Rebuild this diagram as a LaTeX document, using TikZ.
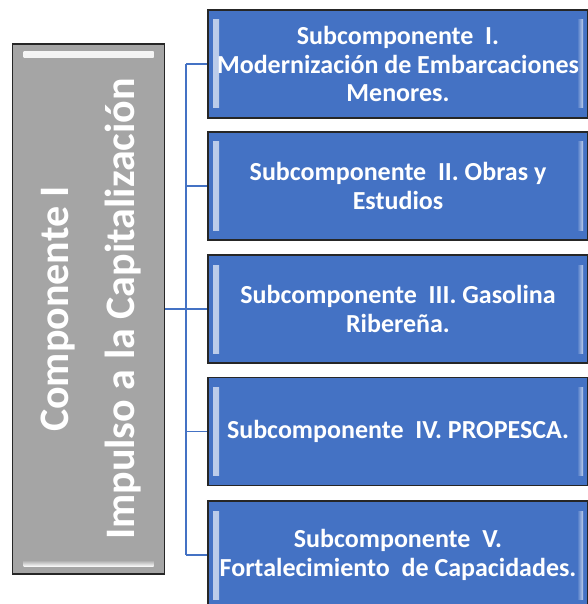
\documentclass[tikz,border=0pt]{standalone}
\usepackage{fontspec}
\setmainfont{Carlito}
\usepackage{graphicx}
\definecolor{subblue}{HTML}{4472C4}
\definecolor{compgray}{HTML}{A5A5A5}
\definecolor{boxline}{HTML}{262626}
\begin{document}
\begin{tikzpicture}[x=1pt,y=-1pt]
			\tikzset{sub/.style = {draw=boxline, line width=1.6pt, fill=subblue, minimum width=380pt, minimum height=108pt, inner sep=0pt, align=center, text=white, font=\bfseries\fontsize{26}{28.5}\selectfont,
				path picture={
					\shade[left color=white!65!subblue, right color=subblue] ([shift={(5pt,-10pt)}]path picture bounding box.north west) rectangle ([shift={(11pt,10pt)}]path picture bounding box.south west);
					\shade[left color=subblue, right color=white!65!subblue] ([shift={(-11pt,-10pt)}]path picture bounding box.north east) rectangle ([shift={(-5pt,10pt)}]path picture bounding box.south east);}}}
			\tikzset{comp/.style = {draw=boxline, line width=1.6pt, fill=compgray, minimum width=152pt, minimum height=530pt, inner sep=0pt, align=center, text=white, font=\bfseries\fontsize{42}{66}\selectfont,
				path picture={
					\shade[top color=white!90!compgray, bottom color=compgray] ([shift={(11pt,-8pt)}]path picture bounding box.north west) rectangle ([shift={(-11pt,-14pt)}]path picture bounding box.north east);
					\shade[top color=compgray, bottom color=white!90!compgray] ([shift={(11pt,8pt)}]path picture bounding box.south west) rectangle ([shift={(-11pt,14pt)}]path picture bounding box.south east);}}}
			\tikzset{link/.style = {draw=subblue, line width=1.8pt}}
			\useasboundingbox (0,0) rectangle (587,604);
			% Componente
			\node[comp] (C) at (88.5,309) {\rotatebox{90}{\begin{tabular}{@{}c@{}}Componente I\\Impulso a la Capitalización\end{tabular}}};
			% Subcomponentes
			\node[sub] (S1) at (398,64) {Subcomponente\ \ I.\\Modernización de Embarcaciones\\Menores.};
			\node[sub] (S2) at (398,186) {Subcomponente\ \ II. Obras y\\Estudios};
			\node[sub] (S3) at (398,309) {Subcomponente\ \ III. Gasolina\\Ribereña.};
			\node[sub] (S4) at (398,431.5) {Subcomponente\ \ IV. PROPESCA.};
			\node[sub] (S5) at (398,555) {Subcomponente\ \ V.\\Fortalecimiento\ \ de Capacidades.};
			% connectors
			\coordinate (J) at (186,309);
			\draw[link] (C.east) -- (J);
			\draw[link] (J |- S1.west) -- (J |- S5.west);
			\draw[link] (J |- S1.west) -- (S1.west);
			\draw[link] (J |- S2.west) -- (S2.west);
			\draw[link] (J |- S3.west) -- (S3.west);
			\draw[link] (J |- S4.west) -- (S4.west);
			\draw[link] (J |- S5.west) -- (S5.west);
		\end{tikzpicture}
\end{document}
